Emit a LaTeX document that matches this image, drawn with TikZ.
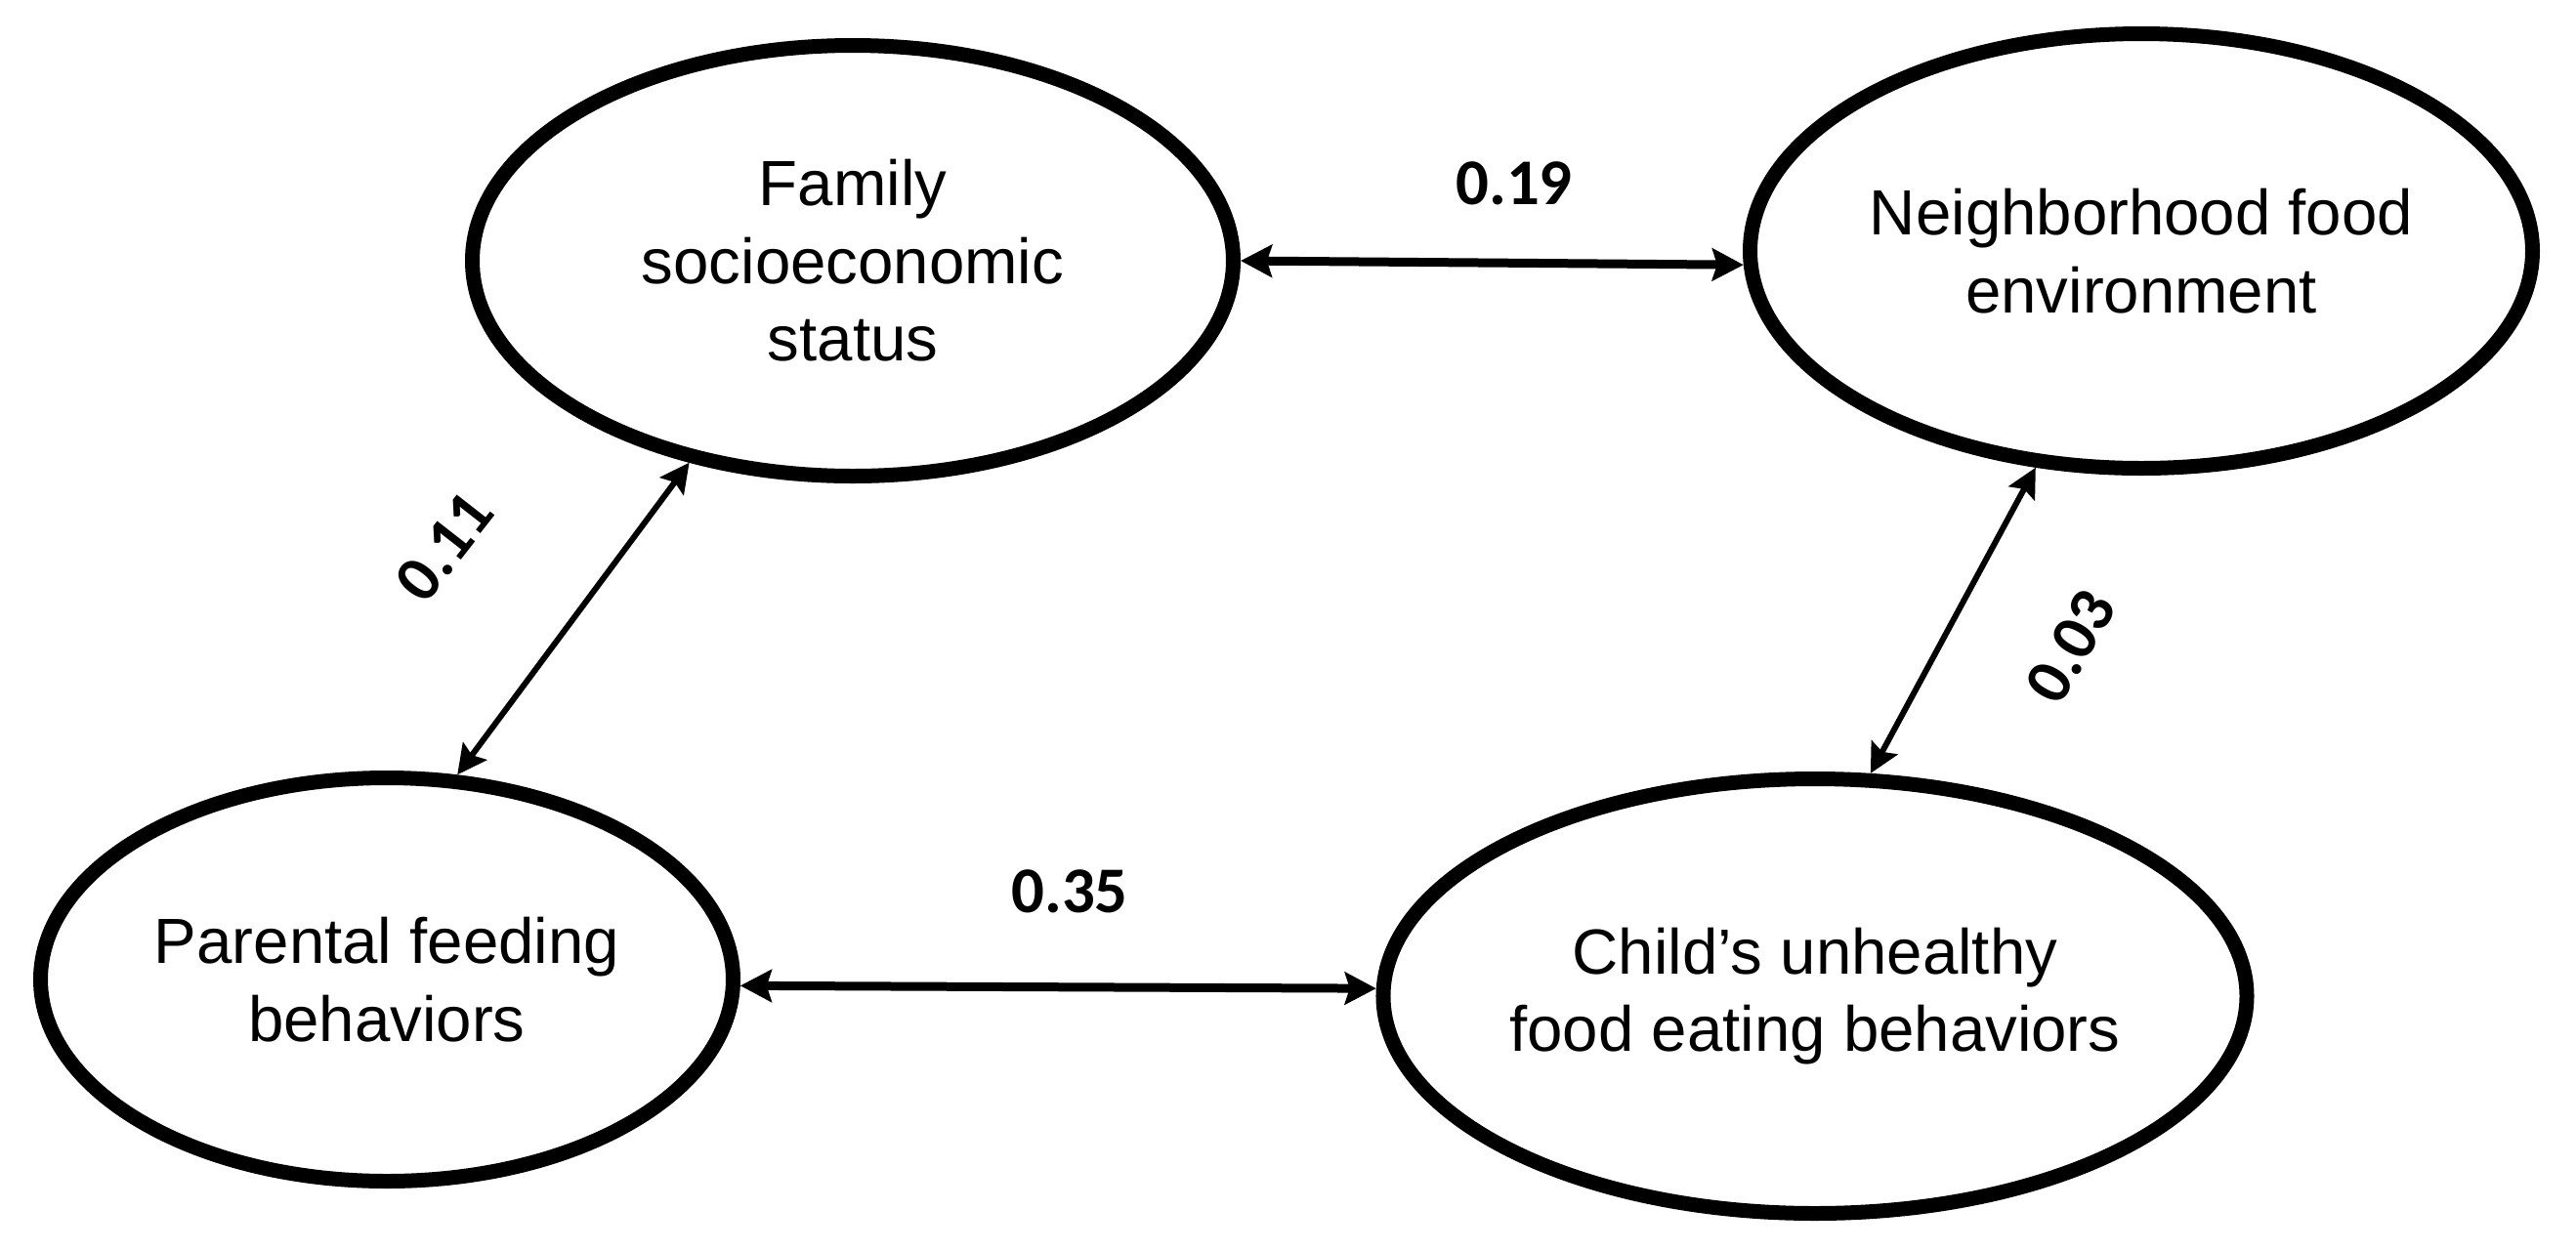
\documentclass[tikz,border=0pt]{standalone}
\usepackage{fontspec}
\setmainfont{Liberation Sans}
\newfontfamily\labfont{Carlito}
\usetikzlibrary{shapes.geometric,arrows.meta}
\tikzset{
  construct/.style={ellipse, draw=black, line width=0.15cm, inner sep=0pt, align=center,
    font=\fontsize{18.6}{22.6}\selectfont},
  coef/.style={font=\labfont\bfseries\fontsize{19}{22}\selectfont, inner sep=0pt},
  link/.style={line width=0.09cm, {Stealth[length=0.32cm,width=0.33cm,inset=0.05cm]}-{Stealth[length=0.32cm,width=0.33cm,inset=0.05cm]}},
  diag/.style={line width=0.06cm, {Stealth[length=0.30cm,width=0.30cm,inset=0.05cm]}-{Stealth[length=0.30cm,width=0.30cm,inset=0.05cm]}}
}
\begin{document}
\begin{tikzpicture}
\useasboundingbox (0,0) rectangle (26.37,-12.81);
\node[construct, minimum width=7.79cm, minimum height=4.41cm] (fam) at (8.73,-2.67) {Family\\socioeconomic\\status};
\node[construct, minimum width=8.01cm, minimum height=4.45cm] (nbh) at (21.92,-2.57) {Neighborhood food\\environment};
\node[construct, minimum width=7.09cm, minimum height=4.13cm] (par) at (3.96,-10.03) {Parental feeding\\behaviors};
\node[construct, minimum width=8.65cm, minimum height=4.45cm] (chi) at (18.58,-10.20) {Child’s unhealthy\\food eating behaviors};

\draw[link] (fam.-0.9) -- (nbh.182.2);
\draw[link] (par.-1.6) -- (chi.179.1);
\draw[diag] (par.71.6) -- (fam.231.7);
\draw[diag] (chi.76.5) -- (nbh.244.2);

\node[coef] (c19) at (15.50,-1.88) {0.19};
\node[coef] (c35) at (10.95,-9.13) {0.35};
\node[coef, rotate=52] (c11) at (4.55,-5.60) {0.11};
\node[coef, rotate=60] (c03) at (21.20,-6.62) {0.03};
\end{tikzpicture}
\end{document}
